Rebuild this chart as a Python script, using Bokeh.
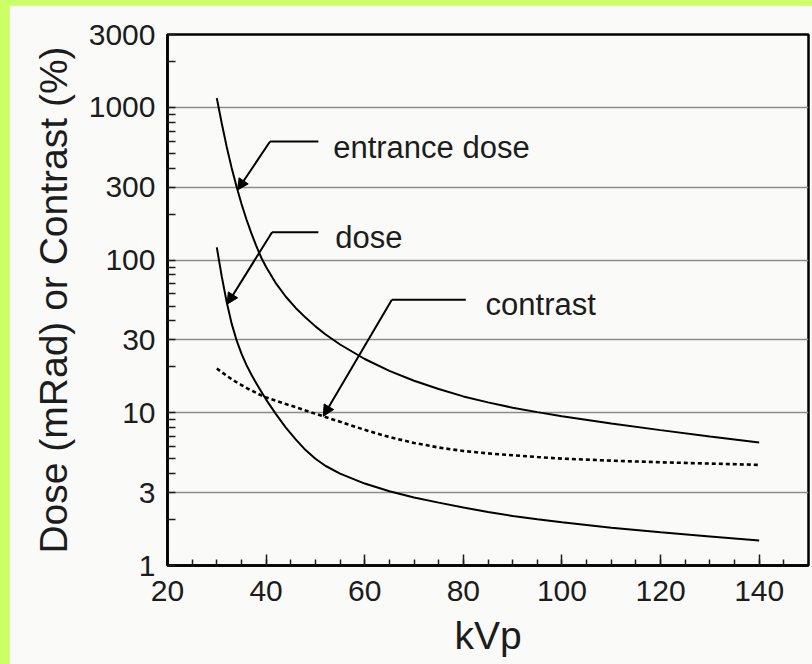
import numpy as np
from bokeh.plotting import figure
from bokeh.models import FixedTicker, ColumnDataSource, Arrow, NormalHead
from bokeh.layouts import column
from bokeh.embed import file_html
from bokeh.resources import INLINE
from bokeh.core.properties import value

# Tube voltage (kVp) and the three curves read against it
kvp = [30, 31, 32, 33, 34, 35, 36, 37, 38, 39, 40, 42, 44, 46, 48, 50, 52, 55,
       60, 65, 70, 75, 80, 85, 90, 95, 100, 110, 120, 130, 140]
entrance_dose = [1150, 787, 553, 403, 303, 234, 185, 150, 124, 104, 90, 70.3,
                 57.5, 48.6, 42.0, 36.8, 32.7, 28.0, 22.5, 18.8, 16.2, 14.3,
                 12.8, 11.7, 10.8, 10.1, 9.5, 8.5, 7.7, 7.0, 6.4]
dose = [121, 78.2, 53.1, 38.5, 29.9, 24.4, 20.6, 17.8, 15.6, 13.8, 12.2, 9.8,
        8.0, 6.7, 5.7, 5.0, 4.5, 4.0, 3.44, 3.06, 2.79, 2.58, 2.40, 2.24, 2.11,
        2.01, 1.92, 1.77, 1.65, 1.55, 1.46]
contrast = [19.5, 18.45, 17.5, 16.6, 15.85, 15.2, 14.55, 14.0, 13.5, 13.0, 12.6,
            12.0, 11.4, 10.9, 10.35, 9.86, 9.4, 8.73, 7.73, 6.93, 6.35, 5.92,
            5.62, 5.42, 5.27, 5.13, 5.01, 4.86, 4.74, 4.65, 4.56]

# Axis ticks
x_ticks = [20, 40, 60, 80, 100, 120, 140]
x_minor = list(range(20, 150, 5))
y_ticks = [1, 3, 10, 30, 100, 300, 1000, 3000]
y_tick_labels = ["1", "3", "10", "30", "100", "300", "1000", "3000"]
y_minor = [2, 4, 5, 6, 7, 8, 9, 20, 40, 50, 60, 70, 80, 90,
           200, 400, 500, 600, 700, 800, 900, 2000]

# Callout labels: text anchor, leader elbow and the kVp the arrow points to
label_names = ["entrance dose", "dose", "contrast"]
label_x = [53.6, 54.0, 84.5]
label_y = [546, 140, 51]
leader_x0 = [40.8, 41.2, 65.5]
leader_x1 = [50.6, 50.6, 80.5]
leader_y = [598, 152, 55]
tip_x = [34.2, 32.1, 51.6]

FONT = "Liberation Sans"
INK = "#1c1c1c"
BG = "#fafaf8"

p = figure(width=803, height=659, x_range=(20, 150), y_range=(1, 3000),
           y_axis_type="log", output_backend="svg", toolbar_location=None,
           min_border_left=158, min_border_right=4, min_border_top=29,
           min_border_bottom=99, background_fill_color=BG, border_fill_color=BG)
p.margin = (5, 0, 0, 9)

p.outline_line_color = "black"
p.outline_line_width = 2.5
p.outline_line_alpha = 1.0

# X axis
xa = p.xaxis[0]
xa.ticker = FixedTicker(ticks=x_ticks, minor_ticks=x_minor)
xa.axis_label = "kVp"
# Y axis
ya = p.yaxis[0]
ya.ticker = FixedTicker(ticks=y_ticks, minor_ticks=y_minor)
ya.major_label_overrides = {t: s for t, s in zip(y_ticks, y_tick_labels)}
ya.axis_label = "Dose (mRad) or Contrast (%)"

for ax in (xa, ya):
    ax.axis_line_color = "black"
    ax.axis_line_width = 2.5
    ax.major_tick_line_color = INK
    ax.minor_tick_line_color = INK
    ax.major_tick_line_width = 1.5
    ax.minor_tick_line_width = 1.5
    ax.major_tick_out = 0
    ax.minor_tick_out = 0
    ax.major_label_text_font = FONT
    ax.major_label_text_font_size = "30px"
    ax.major_label_text_color = INK
    ax.axis_label_text_font = FONT
    ax.axis_label_text_font_size = "39px"
    ax.axis_label_text_font_style = "normal"
    ax.axis_label_text_color = INK

xa.major_tick_in = 11
xa.minor_tick_in = 6
xa.major_label_standoff = 15
xa.axis_label_standoff = 10
ya.major_tick_in = 8
ya.minor_tick_in = 8
ya.major_label_standoff = 12
ya.axis_label_standoff = 11

p.xgrid.grid_line_color = None
p.ygrid.grid_line_color = "#8c8c8c"
p.ygrid.grid_line_width = 1.6

# Curves
p.line(kvp, entrance_dose, line_color="black", line_width=2)
p.line(kvp, dose, line_color="black", line_width=2)
p.line(kvp, contrast, line_color="black", line_width=2.6, line_dash="4 3")

# Callouts: arrow tips sit on their curves
series = [entrance_dose, dose, contrast]
tip_y = [10 ** np.interp(tx, kvp, np.log10(s)) for tx, s in zip(tip_x, series)]

p.segment(x0=leader_x0, y0=leader_y, x1=leader_x1, y1=leader_y,
          line_color="black", line_width=2)
arrows = ColumnDataSource(dict(x0=leader_x0, y0=leader_y, x1=tip_x, y1=tip_y))
p.add_layout(Arrow(x_start="x0", y_start="y0", x_end="x1", y_end="y1",
                   source=arrows, line_color="black", line_width=2,
                   end=NormalHead(size=11, fill_color="black",
                                  line_color="black", line_width=1)))
p.text(x=label_x, y=label_y, text=label_names, text_font=value(FONT),
       text_font_size="31px", text_baseline="middle", text_align="left",
       text_color=INK)

page = column(p, styles={"background-color": "#ccff66"})
open("out.html", "w").write(file_html(page, INLINE))
